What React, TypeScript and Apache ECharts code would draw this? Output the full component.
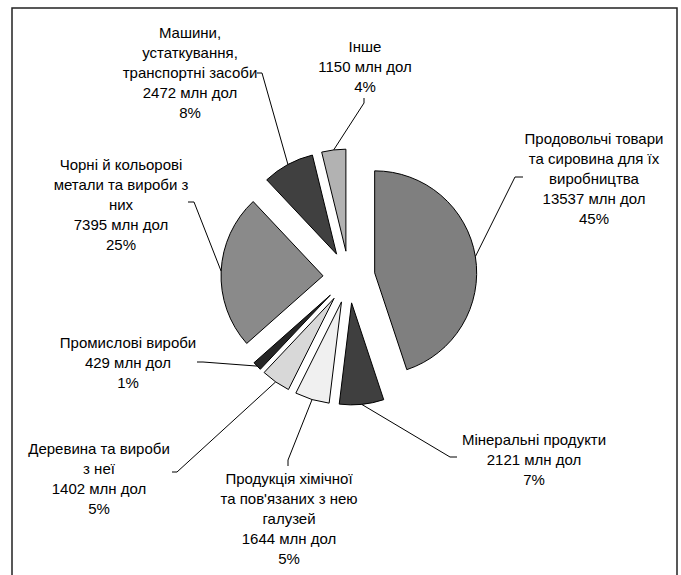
import React, { useEffect, useRef } from 'react';
import * as echarts from 'echarts';

// ---- data ----
const categories: string[] = [
  'Продовольчі товари та сировина для їх виробництва',
  'Мінеральні продукти',
  "Продукція хімічної та пов'язаних з нею галузей",
  'Деревина та вироби з неї',
  'Промислові вироби',
  'Чорні й кольорові метали та вироби з них',
  'Машини, устаткування, транспортні засоби',
  'Інше',
];
const labelTexts: string[] = [
  'Продовольчі товари\nта сировина для їх\nвиробництва',
  'Мінеральні продукти',
  "Продукція хімічної\nта пов'язаних з нею\nгалузей",
  'Деревина та вироби\nз неї',
  'Промислові вироби',
  'Чорні й кольорові\nметали та вироби з\nних',
  'Машини,\nустаткування,\nтранспортні засоби',
  'Інше',
];
const values: number[] = [13537, 2121, 1644, 1402, 429, 7395, 2472, 1150];
const unit = 'млн дол';

// ---- styles / layout ----
const colors = ['#7f7f7f', '#3f3f3f', '#f0f0f0', '#d8d8d8', '#262626', '#8a8a8a', '#404040', '#b2b2b2'];
const CENTER = [349, 277];
const RADIUS = 102;
const EXPLODE = 26;
const labelCenters: number[][] = [
  [594, 178],
  [534, 459],
  [289, 518],
  [99, 478],
  [128, 362],
  [121, 204],
  [190, 72],
  [365, 66],
];
const labelTicks: number[][][] = [
  [[515, 177], [523, 177]],
  [[450, 457], [457, 457]],
  [[288, 460], [288, 466]],
  [[177, 472], [172, 472]],
  [[203, 362], [197, 362]],
  [[194, 202], [188, 202]],
  [[262, 73], [257, 73]],
  [[364, 103], [364, 98]],
];
const FONT = "'Liberation Sans', Arial, sans-serif";

export default function App() {
  const ref = useRef<HTMLDivElement>(null);
  useEffect(() => {
    if (!ref.current) return;
    const chart = echarts.init(ref.current, null, { renderer: 'svg' });
    const sliceData = values.map((v, i) => ({
      name: categories[i],
      value: v,
      selected: true,
      itemStyle: { color: colors[i] },
    }));
    const labelData = values.map((v, i) => ({ name: categories[i], value: v }));
    chart.setOption({
      animation: false,
      graphic: [
        {
          type: 'rect',
          shape: { x: 12, y: 8, width: 665, height: 640 },
          style: { fill: 'none', stroke: '#222', lineWidth: 1.5 },
          silent: true,
          z: 0,
        },
      ],
      series: [
        {
          type: 'pie',
          center: CENTER,
          radius: RADIUS,
          startAngle: 90,
          clockwise: true,
          selectedMode: 'multiple',
          selectedOffset: EXPLODE,
          avoidLabelOverlap: false,
          silent: true,
          emphasis: { disabled: true, scale: false },
          itemStyle: { borderColor: '#000', borderWidth: 1 },
          select: { itemStyle: { borderColor: '#000', borderWidth: 1 } },
          label: { show: false },
          labelLine: { show: false },
          data: sliceData,
          z: 2,
        },
        {
          type: 'pie',
          center: CENTER,
          radius: RADIUS,
          startAngle: 90,
          clockwise: true,
          percentPrecision: 0,
          avoidLabelOverlap: false,
          silent: true,
          emphasis: { disabled: true, scale: false },
          itemStyle: { color: 'rgba(0,0,0,0)', borderWidth: 0 },
          label: {
            show: true,
            position: 'outside',
            color: '#000',
            fontFamily: FONT,
            fontSize: 15,
            lineHeight: 20,
            align: 'center',
            formatter: (p: any) => `${labelTexts[p.dataIndex]}\n${p.value} ${unit}\n${p.percent}%`,
          },
          labelLine: { show: true, lineStyle: { color: '#000', width: 1 } },
          labelLayout: (p: any) => {
            const i = p.dataIndex;
            const pts = p.labelLinePoints;
            const res: any = {
              x: labelCenters[i][0],
              y: labelCenters[i][1],
              align: 'center',
              verticalAlign: 'middle',
            };
            if (pts && pts.length) {
              const dx = pts[0][0] - CENTER[0];
              const dy = pts[0][1] - CENTER[1];
              const len = Math.hypot(dx, dy) || 1;
              const start = [
                CENTER[0] + (dx / len) * (RADIUS + EXPLODE),
                CENTER[1] + (dy / len) * (RADIUS + EXPLODE),
              ];
              res.labelLinePoints = [start, labelTicks[i][0], labelTicks[i][1]];
            }
            return res;
          },
          data: labelData,
          z: 3,
        },
      ],
    });
    return () => chart.dispose();
  }, []);
  return (
    <div
      ref={ref}
      style={{ position: 'absolute', left: 0, top: 0, width: 681, height: 575, background: '#fff' }}
    />
  );
}
